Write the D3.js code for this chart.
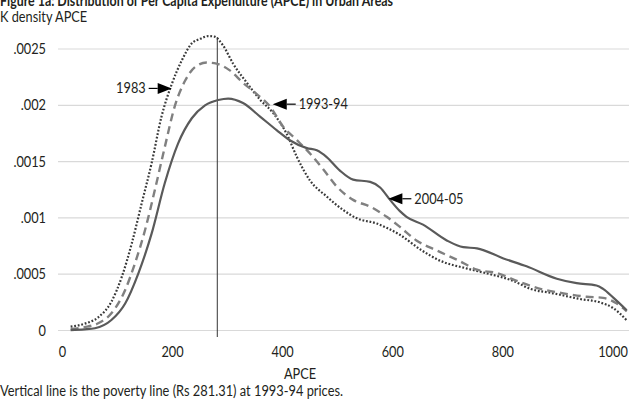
<!DOCTYPE html>
<html>
<head>
<meta charset="utf-8">
<script src="https://cdn.jsdelivr.net/npm/d3@7"></script>
<style>
  html, body { margin: 0; padding: 0; background: #fff; }
  svg { display: block; }
  text { font-family: Lato, "Noto Sans", sans-serif; fill: #231f20; }
</style>
</head>
<body>
<svg id="chart" width="629" height="402"></svg>
<script>
// Kernel density of APCE (Rs per month, 1993-94 prices)
const apce1983 = [15, 40, 65, 89, 108, 126, 144, 162, 180, 198, 217, 235, 250, 265, 276, 292, 310, 335, 359, 383, 407, 426, 450, 480, 510, 535, 571, 590, 613, 650, 686, 735, 777, 819, 850, 892, 940, 976, 1000, 1025];
const dens1983 = [0.000034, 0.00006, 0.000117, 0.000256, 0.000478, 0.000774, 0.00113, 0.001485, 0.0019, 0.00218, 0.0024, 0.00255, 0.00259, 0.002615, 0.00261, 0.00253, 0.00237, 0.0022, 0.00205, 0.00193, 0.00175, 0.00154, 0.00133, 0.00119, 0.00107, 0.000996, 0.00095, 0.00091, 0.00085, 0.00072, 0.00062, 0.00055, 0.0005, 0.00044, 0.00037, 0.00033, 0.00028, 0.00025, 0.0002, 0.00009];

const apce1993 = [15, 40, 65, 89, 114, 132, 150, 168, 186, 204, 223, 241, 262, 280, 304, 328, 353, 377, 401, 426, 450, 474, 498, 528, 559, 589, 613, 643, 680, 716, 753, 789, 831, 868, 910, 952, 982, 1007, 1025];
const dens1993 = [0.000013, 0.00003, 0.000064, 0.000153, 0.00036, 0.0006, 0.00089, 0.00125, 0.00163, 0.00199, 0.00222, 0.00234, 0.00238, 0.00237, 0.00231, 0.0022, 0.0021, 0.00199, 0.00181, 0.00169, 0.00157, 0.00143, 0.00128, 0.00116, 0.0011, 0.00101, 0.00092, 0.0008, 0.00071, 0.00063, 0.00054, 0.00051, 0.00043, 0.00037, 0.00033, 0.0003, 0.00029, 0.00024, 0.00017];

const apce2004 = [15, 40, 59, 89, 114, 138, 162, 186, 210, 235, 259, 283, 301, 328, 359, 389, 413, 444, 462, 480, 504, 528, 559, 577, 595, 613, 625, 655, 698, 728, 753, 801, 843, 898, 934, 970, 982, 1001, 1025];
const dens2004 = [0.000004, 0.00001, 0.00002, 0.000093, 0.00024, 0.000508, 0.00086, 0.00131, 0.00166, 0.001885, 0.002, 0.002047, 0.00206, 0.00202, 0.0019, 0.00178, 0.00169, 0.00162, 0.0016, 0.00154, 0.00142, 0.00134, 0.00132, 0.00127, 0.00116, 0.00106, 0.00101, 0.00094, 0.0008, 0.00074, 0.00073, 0.00064, 0.00057, 0.00046, 0.00042, 0.0004, 0.00037, 0.00029, 0.00018];

const yTicks = [0, 0.0005, 0.001, 0.0015, 0.002, 0.0025];
const yTickLabels = ["0", ".0005", ".001", ".0015", ".002", ".0025"];
const xTicks = [0, 200, 400, 600, 800, 1000];
const xTickLabels = ["0", "200", "400", "600", "800", "1000"];

const povertyLine = 281.31;

// Series labels with the point each arrow points at
const labelNames = ["1983", "1993-94", "2004-05"];
const labelApce = [198.5, 382, 592];
const labelDens = [0.00215, 0.00201, 0.00117];
const labelSide = ["left", "right", "right"];

const titleText = "Figure 1a: Distribution of Per Capita Expenditure (APCE) in Urban Areas";
const yTitle = "K density APCE";
const xTitle = "APCE";
const note = "Vertical line is the poverty line (Rs 281.31) at 1993-94 prices.";

const FS = 14.5;        // body font size
const NARROW = 0.88;    // horizontal squeeze for a semi-condensed look

// Narrow a text element horizontally while keeping its anchor
function narrow(sel) {
  sel.each(function () {
    const w = this.getComputedTextLength();
    d3.select(this)
      .attr("textLength", w * NARROW)
      .attr("lengthAdjust", "spacingAndGlyphs");
  });
  return sel;
}

const svg = d3.select("#chart");

const x = d3.scaleLinear().domain([0, 1000]).range([62.4, 613]);
const y = d3.scaleLinear().domain([0, 0.0025]).range([330.5, 49]);

// Title (partly above the top edge) and y-axis caption
svg.append("text")
  .attr("x", 0).attr("y", 6)
  .attr("font-size", 15.5).attr("font-weight", "bold")
  .attr("textLength", 393).attr("lengthAdjust", "spacingAndGlyphs")
  .text(titleText);
svg.append("text")
  .attr("x", 0).attr("y", 22)
  .attr("font-size", FS)
  .text(yTitle)
  .call(narrow);

// Horizontal gridlines
svg.append("g").selectAll("line")
  .data(yTicks).join("line")
  .attr("x1", 58).attr("x2", 629)
  .attr("y1", d => y(d)).attr("y2", d => y(d))
  .attr("stroke", "#d9d9d9").attr("stroke-width", 1.2);

// Y tick labels
svg.append("g").selectAll("text")
  .data(yTicks).join("text")
  .attr("x", 46).attr("y", d => y(d))
  .attr("dy", "0.35em")
  .attr("text-anchor", "end")
  .attr("font-size", FS)
  .text((d, i) => yTickLabels[i])
  .call(narrow);

// X tick labels
svg.append("g").selectAll("text")
  .data(xTicks).join("text")
  .attr("x", d => x(d)).attr("y", 352)
  .attr("dy", "0.35em")
  .attr("text-anchor", "middle")
  .attr("font-size", FS)
  .text((d, i) => xTickLabels[i])
  .call(narrow);

svg.append("text")
  .attr("x", 300).attr("y", 374)
  .attr("dy", "0.35em")
  .attr("text-anchor", "middle")
  .attr("font-size", FS)
  .text(xTitle)
  .call(narrow);

// Poverty line
svg.append("line")
  .attr("x1", x(povertyLine)).attr("x2", x(povertyLine))
  .attr("y1", 37).attr("y2", 337)
  .attr("stroke", "#333").attr("stroke-width", 1);

// Density curves
const line = d3.line()
  .x(d => x(d[0])).y(d => y(d[1]))
  .curve(d3.curveMonotoneX);

const series = [
  { xs: apce1983, ys: dens1983, color: "#3a3a3a", width: 2.2, dash: "1.8,1.8" },
  { xs: apce1993, ys: dens1993, color: "#808080", width: 2.4, dash: "8,5" },
  { xs: apce2004, ys: dens2004, color: "#5a5a5a", width: 2.2, dash: null }
];

svg.append("g").selectAll("path")
  .data(series).join("path")
  .attr("d", s => line(d3.zip(s.xs, s.ys)))
  .attr("fill", "none")
  .attr("stroke", s => s.color)
  .attr("stroke-width", s => s.width)
  .attr("stroke-dasharray", s => s.dash)
  .attr("stroke-linejoin", "round");

// Arrow labels
const ann = svg.append("g");
labelNames.forEach((name, i) => {
  const tx = x(labelApce[i]);
  const ty = y(labelDens[i]);
  const dir = labelSide[i] === "left" ? -1 : 1;   // side where the text sits
  const headLen = 14, half = 5.5, stem = 9;
  const baseX = tx + dir * headLen;
  const endX = baseX + dir * stem;
  ann.append("path")
    .attr("d", `M${tx},${ty}L${baseX},${ty - half}L${baseX},${ty + half}Z`)
    .attr("fill", "#000");
  ann.append("line")
    .attr("x1", baseX).attr("x2", endX)
    .attr("y1", ty).attr("y2", ty)
    .attr("stroke", "#000").attr("stroke-width", 1.2);
  ann.append("text")
    .attr("x", endX + dir * 3).attr("y", ty)
    .attr("dy", "0.35em")
    .attr("text-anchor", dir < 0 ? "end" : "start")
    .attr("font-size", FS)
    .text(name)
    .call(narrow);
});

// Note under the chart
svg.append("text")
  .attr("x", 0).attr("y", 396)
  .attr("font-size", FS)
  .attr("textLength", 343).attr("lengthAdjust", "spacingAndGlyphs")
  .text(note);
</script>
</body>
</html>
